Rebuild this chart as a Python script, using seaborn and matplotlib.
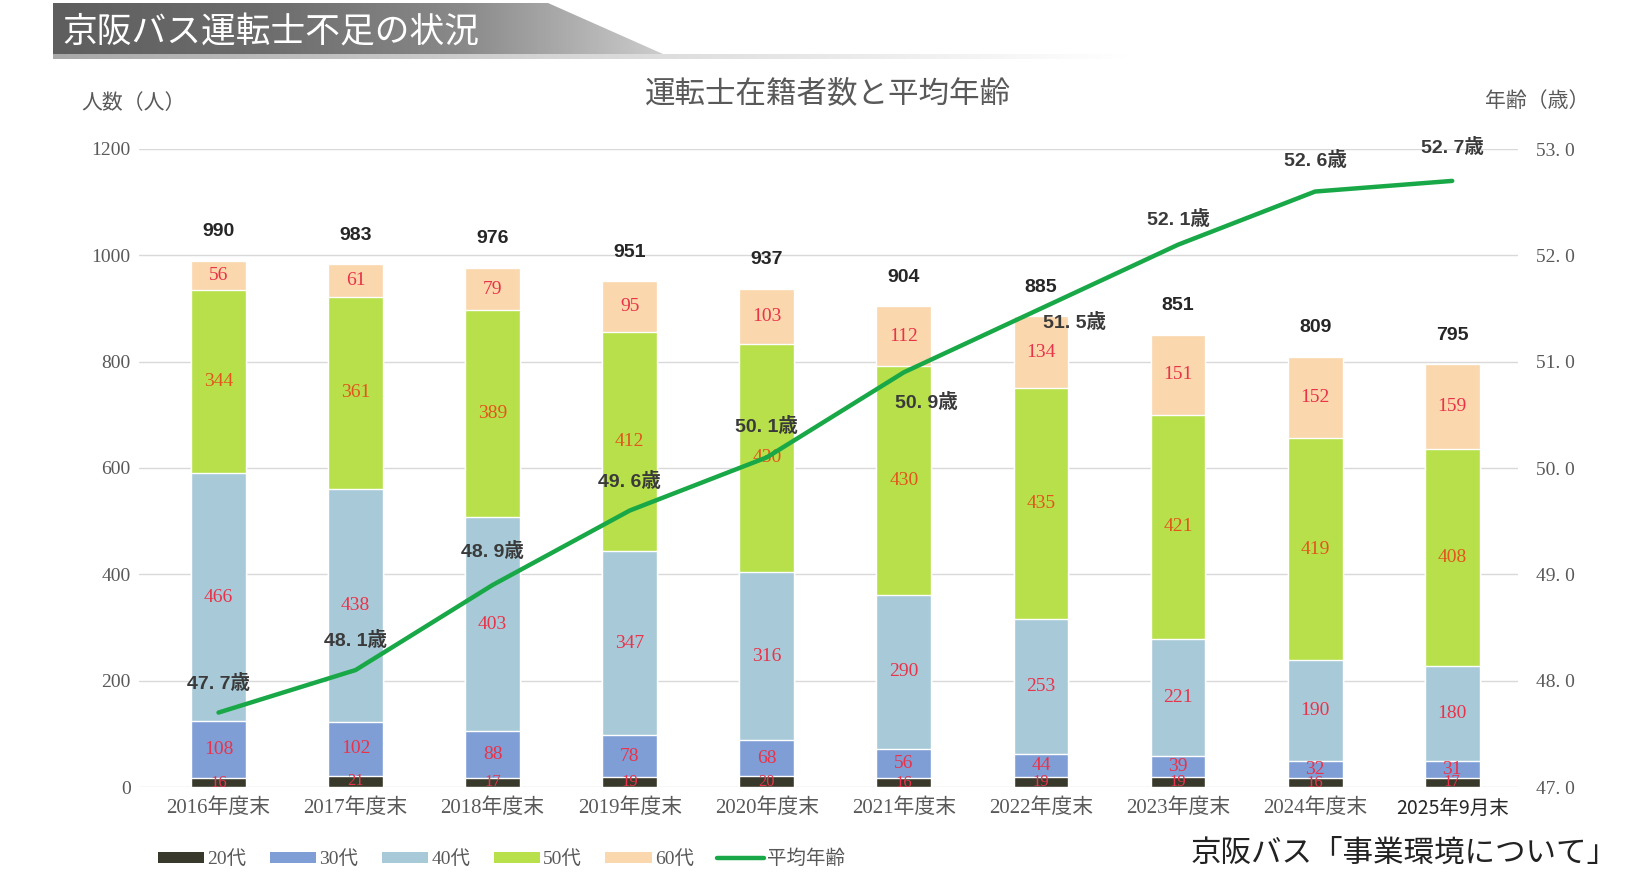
import numpy as np
import pandas as pd
import seaborn as sns
import matplotlib.pyplot as plt
from matplotlib.patches import Patch, Polygon
from matplotlib.lines import Line2D
from matplotlib.colors import LinearSegmentedColormap

# data
years = ["2016年度末", "2017年度末", "2018年度末", "2019年度末", "2020年度末",
         "2021年度末", "2022年度末", "2023年度末", "2024年度末", "2025年9月末"]
age20 = [16, 21, 17, 19, 20, 16, 19, 19, 16, 17]
age30 = [108, 102, 88, 78, 68, 56, 44, 39, 32, 31]
age40 = [466, 438, 403, 347, 316, 290, 253, 221, 190, 180]
age50 = [344, 361, 389, 412, 430, 430, 435, 421, 419, 408]
age60 = [56, 61, 79, 95, 103, 112, 134, 151, 152, 159]
avg_age = [47.7, 48.1, 48.9, 49.6, 50.1, 50.9, 51.5, 52.1, 52.6, 52.7]

groups = ["20代", "30代", "40代", "50代", "60代"]
colors = ["#39392b", "#7f9ed6", "#a8cad8", "#b8e04a", "#fad7ac"]
line_color = "#19a847"

df = pd.DataFrame({"year": years, "20代": age20, "30代": age30, "40代": age40,
                   "50代": age50, "60代": age60, "avg": avg_age})
# cumulative tops for stacking
cum = df[groups].cumsum(axis=1)
df["total"] = cum["60代"]

sns.set_theme(style="white")
plt.rcParams['font.family'] = ['Noto Sans CJK JP', 'DejaVu Sans']
serif = ['Liberation Serif', 'Noto Sans CJK JP']
bold_sans = ['Liberation Sans', 'Noto Sans CJK JP']

W, H = 1647, 872
fig = plt.figure(figsize=(W / 100, H / 100), dpi=100)

# header banner in pixel coordinates
hax = fig.add_axes([0, 0, 1, 1], zorder=0)
hax.set_xlim(0, W)
hax.set_ylim(H, 0)
hax.axis("off")
cmap = LinearSegmentedColormap.from_list("hdr", ["#5e5e5e", "#6c6c6c", "#8a8a8a", "#cfcfcf"])
g = np.linspace(0, 1, 256)[None, :]
img = hax.imshow(g, extent=(53, 672, 58, 3), cmap=cmap, aspect="auto")
img.set_clip_path(Polygon([(53, 3), (548, 3), (672, 58), (53, 58)], transform=hax.transData))
cmap2 = LinearSegmentedColormap.from_list("ln", ["#a8a8a8", "#d8d8d8", "#ffffff"])
hax.imshow(g, extent=(53, 1130, 59, 54), cmap=cmap2, aspect="auto", zorder=0)
hax.text(62, 33, "京阪バス運転士不足の状況", color="white", fontsize=25, va="center", ha="left")

ax = fig.add_axes([139 / W, 1 - 787 / H, (1518 - 139) / W, (787 - 149) / H], zorder=1)

# stacked bars: draw cumulative heights from top layer down
for grp, col in reversed(list(zip(groups, colors))):
    sns.barplot(x=df["year"], y=cum[grp], color=col, width=0.4, saturation=1,
                errorbar=None, ax=ax, zorder=2)

ax.set_ylim(0, 1200)
ax.set_yticks(range(0, 1201, 200))
ax.grid(axis="y", color="#d9d9d9", linewidth=1)
ax.grid(axis="x", visible=False)
ax.set_axisbelow(True)
for s in ax.spines.values():
    s.set_visible(False)
ax.set_xlabel("")
ax.set_ylabel("")
ax.tick_params(axis="y", length=0, pad=6, labelsize=14, labelcolor="#595959")
ax.tick_params(axis="x", length=0, pad=8, labelsize=15, labelcolor="#595959")
for lab in ax.get_yticklabels():
    lab.set_family(serif)
for i, lab in enumerate(ax.get_xticklabels()):
    if i == len(years) - 1:
        lab.set_family(['Noto Sans CJK JP'])
        lab.set_color("#262626")
        lab.set_fontsize(14)
    else:
        lab.set_family(serif)

# segment labels
for i in range(len(years)):
    bottom = 0
    for grp in groups:
        v = df.loc[i, grp]
        c = "#e2561d" if grp == "50代" else "#e8334a"
        fs = 12 if grp == "20代" else 14
        ax.text(i, bottom + v / 2, str(v), ha="center", va="center", fontsize=fs,
                color=c, family=serif, zorder=5)
        bottom += v
    ax.annotate(str(df.loc[i, "total"]), (i, df.loc[i, "total"]), xytext=(0, 21),
                textcoords="offset points", ha="center", va="center", fontsize=14,
                fontweight="bold", family=bold_sans, color="#262626", zorder=5)

# average age line on the right axis
ax2 = ax.twinx()
sns.lineplot(x=np.arange(len(years)), y=df["avg"], color=line_color, linewidth=3.2, ax=ax2, zorder=4)
ax2.set_ylim(47, 53)
right_ticks = np.arange(47, 53.1, 1)
ax2.set_yticks(right_ticks)
ax2.set_yticklabels([f"{v:.0f}. 0" for v in right_ticks], family=serif)
ax2.tick_params(axis="y", length=0, pad=13, labelsize=14, labelcolor="#595959")
ax2.set_ylabel("")
ax2.grid(False)
for s in ax2.spines.values():
    s.set_visible(False)
ax.set_xlim(-0.58, 9.48)

offsets = [(0, 21), (0, 21), (0, 24), (0, 21), (0, 22), (16, -22), (24, -10), (0, 18), (0, 22), (0, 24)]
for i, v in enumerate(avg_age):
    a, b = f"{v:.1f}".split(".")
    ax2.annotate(f"{a}. {b}歳", (i, v), xytext=offsets[i], textcoords="offset points",
                 ha="center", va="center", fontsize=14, fontweight="bold",
                 family=bold_sans, color="#3a3a3a", zorder=6)

# titles and axis captions
fig.text(828 / W, 1 - 94 / H, "運転士在籍者数と平均年齢", ha="center", va="center",
         fontsize=22, color="#595959")
fig.text(133 / W, 1 - 103 / H, "人数（人）", ha="center", va="center", fontsize=15, color="#595959")
fig.text(1537 / W, 1 - 101 / H, "年齢（歳）", ha="center", va="center", fontsize=15, color="#595959")
fig.text(1404 / W, 1 - 853 / H, "京阪バス「事業環境について」", ha="center", va="center",
         fontsize=22, color="#222222")

handles = [Patch(facecolor=c, edgecolor="none") for c in colors]
handles.append(Line2D([0], [0], color=line_color, linewidth=3.2))
leg = fig.legend(handles, groups + ["平均年齢"], loc="center left",
                 bbox_to_anchor=(150 / W, 1 - 859 / H), ncol=6, frameon=False,
                 handlelength=2.4, handleheight=0.45, handletextpad=0.15,
                 columnspacing=1.2, borderaxespad=0, fontsize=14)
for t in leg.get_texts():
    t.set_color("#595959")
    t.set_family(serif)

fig.savefig("out.png", dpi=100, facecolor="white")
